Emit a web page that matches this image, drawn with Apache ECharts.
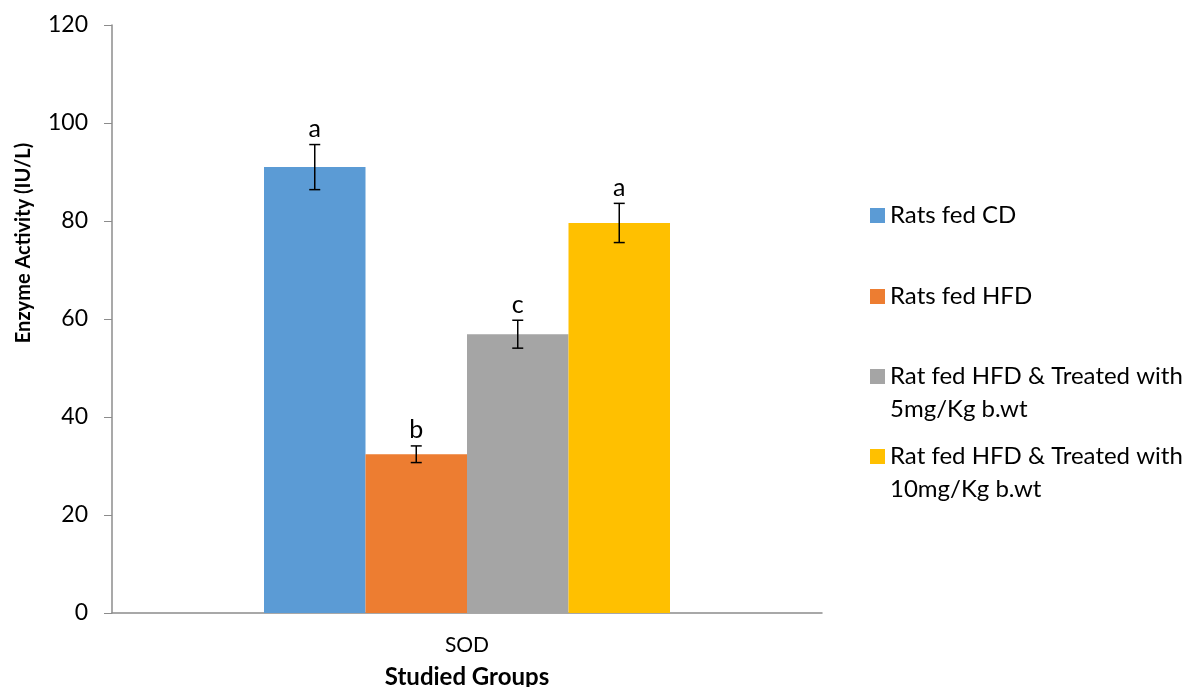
<!DOCTYPE html>
<html>
<head>
<meta charset="utf-8">
<script src="https://cdn.jsdelivr.net/npm/echarts@6/dist/echarts.min.js"></script>
<style>
  html, body { margin: 0; padding: 0; background: #fff; }
  #chart { width: 1189px; height: 687px; }
</style>
</head>
<body>
<div id="chart"></div>
<script>
var categories = ['SOD'];
var groupNames = ['Rats fed CD', 'Rats fed HFD',
  'Rat fed HFD & Treated with 5mg/Kg b.wt', 'Rat fed HFD & Treated with 10mg/Kg b.wt'];
var means = [91.0, 32.4, 56.9, 79.6];
var errors = [4.6, 1.7, 2.85, 4.0];
var letters = ['a', 'b', 'c', 'a'];
var yTicks = [0, 20, 40, 60, 80, 100, 120];

var colors = ['#5B9BD5', '#ED7D31', '#A5A5A5', '#FFC000'];
var font = 'Lato';
var axisColor = '#8c8c8c';
var barW = 101.5;

var chart = echarts.init(document.getElementById('chart'));

// bar series, one per group
var series = groupNames.map(function (name, i) {
  return {
    name: name,
    type: 'bar',
    barWidth: barW,
    barGap: '0%',
    itemStyle: { color: colors[i] },
    data: [means[i]],
    z: 2
  };
});

// error bars + significance letters
var errData = means.map(function (m, i) { return [0, m, errors[i], i]; });
series.push({
  type: 'custom',
  data: errData,
  z: 5,
  silent: true,
  renderItem: function (params, api) {
    var g = api.value(3);
    var center = api.coord([api.value(0), 0])[0];
    var x = center + (g - 1.5) * barW;
    var top = api.coord([api.value(0), api.value(1) + api.value(2)])[1];
    var bot = api.coord([api.value(0), api.value(1) - api.value(2)])[1];
    var cap = 5.5;
    var st = { stroke: '#000', lineWidth: 1.5 };
    return {
      type: 'group',
      children: [
        { type: 'line', shape: { x1: x, y1: top, x2: x, y2: bot }, style: st },
        { type: 'line', shape: { x1: x - cap, y1: top, x2: x + cap, y2: top }, style: st },
        { type: 'line', shape: { x1: x - cap, y1: bot, x2: x + cap, y2: bot }, style: st },
        { type: 'text', style: { text: letters[params.dataIndex], x: x, y: top - 3,
            align: 'center', verticalAlign: 'bottom', fontFamily: font, fontSize: 25, fill: '#000' } }
      ]
    };
  }
});

// one legend block per group so the spacing follows the picture
var legendTops = [199, 280, 327, 407];
var legends = groupNames.map(function (name, i) {
  return {
    data: [name],
    orient: 'vertical',
    left: 870,
    top: legendTops[i],
    padding: 0,
    itemWidth: 15,
    itemHeight: 15,
    icon: 'rect',
    selectedMode: false,
    formatter: function (n) {
      return n.indexOf(' with ') > 0 ? '\n' + n.replace(' with ', ' with\n') : n;
    },
    textStyle: { fontFamily: font, fontSize: 24, color: '#000', lineHeight: 33 }
  };
});

var option = {
  backgroundColor: '#fff',
  animation: false,
  grid: { left: 112, right: 367, top: 25, bottom: 74, outerBoundsMode: 'none', containLabel: false },
  legend: legends,
  xAxis: {
    type: 'category',
    data: categories,
    axisTick: { show: false },
    axisLine: { lineStyle: { color: axisColor, width: 1.5 } },
    axisLabel: { margin: 22, fontFamily: font, fontSize: 21, color: '#000' },
    name: 'Studied Groups',
    nameLocation: 'middle',
    nameGap: 52,
    nameTextStyle: { fontFamily: font, fontSize: 24, fontWeight: 'bold', color: '#000' }
  },
  yAxis: {
    type: 'value',
    min: yTicks[0],
    max: yTicks[yTicks.length - 1],
    interval: yTicks[1] - yTicks[0],
    splitLine: { show: false },
    axisLine: { show: true, lineStyle: { color: axisColor, width: 1.5 } },
    axisTick: { show: true, length: 8, lineStyle: { color: axisColor } },
    axisLabel: { margin: 24, fontFamily: font, fontSize: 23, color: '#000' }
  },
  graphic: [{
    type: 'text',
    x: 24,
    y: 243,
    rotation: Math.PI / 2,
    style: { text: 'Enzyme Activity (IU/L)', align: 'center', verticalAlign: 'middle',
      fontFamily: font, fontSize: 20, fontWeight: 'bold', fill: '#000' }
  }],
  series: series
};

chart.setOption(option);
</script>
</body>
</html>
